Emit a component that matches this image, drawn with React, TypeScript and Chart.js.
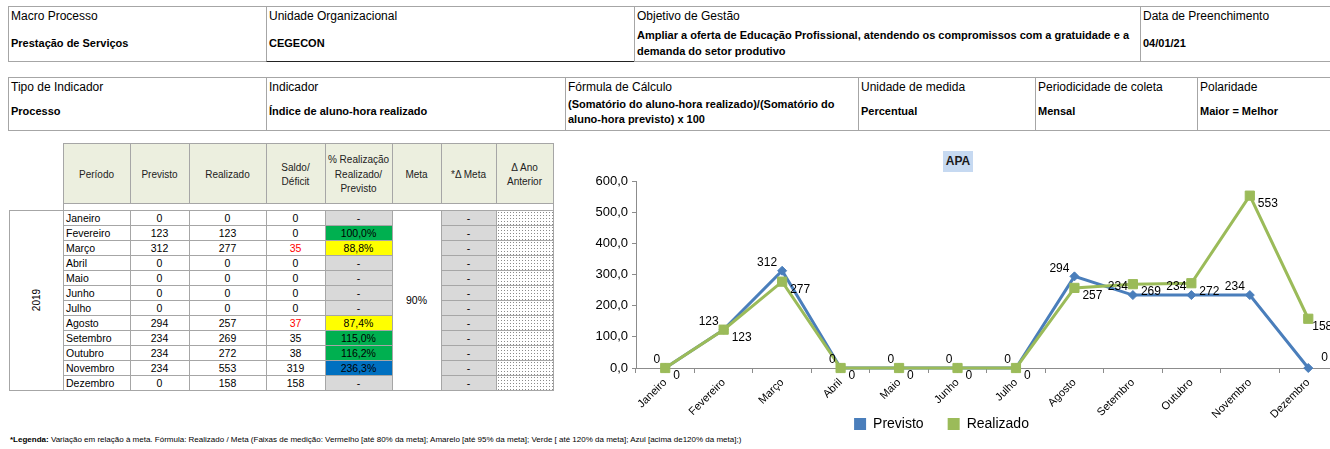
import React, { useEffect, useRef } from 'react';
import { Chart, registerables } from 'chart.js';

Chart.register(...registerables);

// ---------- data ----------
const months = ['Janeiro', 'Fevereiro', 'Março', 'Abril', 'Maio', 'Junho', 'Julho', 'Agosto', 'Setembro', 'Outubro', 'Novembro', 'Dezembro'];
const previsto = [0, 123, 312, 0, 0, 0, 0, 294, 234, 234, 234, 0];
const realizado = [0, 123, 277, 0, 0, 0, 0, 257, 269, 272, 553, 158];
const saldo = [0, 0, 35, 0, 0, 0, 0, 37, 35, 38, 319, 158];
const pctRealizacao: (number | null)[] = [null, 100.0, 88.8, null, null, null, null, 87.4, 115.0, 116.2, 236.3, null];
const yTicks = [0, 100, 200, 300, 400, 500, 600];
const seriesNames = ['Previsto', 'Realizado'];
const chartTitle = 'APA';
const yearLabel = '2019';
const metaLabel = '90%';

const infoHeaders1 = ['Macro Processo', 'Unidade Organizacional', 'Objetivo de Gestão', 'Data de Preenchimento'];
const infoValues1 = [['Prestação de Serviços'], ['CEGECON'], ['Ampliar a oferta de Educação Profissional, atendendo os compromissos com a gratuidade e a', 'demanda do setor produtivo'], ['04/01/21']];
const infoHeaders2 = ['Tipo de Indicador', 'Indicador', 'Fórmula  de Cálculo', 'Unidade de medida', 'Periodicidade de coleta', 'Polaridade'];
const infoValues2 = [['Processo'], ['Índice de aluno-hora realizado'], ['(Somatório do aluno-hora realizado)/(Somatório do', 'aluno-hora previsto) x 100'], ['Percentual'], ['Mensal'], ['Maior = Melhor']];
const tableHeaders = [['Período'], ['Previsto'], ['Realizado'], ['Saldo/', 'Déficit'], ['% Realização', 'Realizado/', 'Previsto'], ['Meta'], ['*Δ Meta'], ['Δ Ano', 'Anterior']];
const footerBold = '*Legenda:';
const footerText = ' Variação em relação à meta. Fórmula: Realizado / Meta (Faixas de medição: Vermelho [até 80% da meta]; Amarelo [até 95% da meta]; Verde [ até 120% da meta]; Azul [acima de120% da meta];)';

// ---------- styles ----------
const FONT = '"Liberation Sans", Arial, sans-serif';
const BORDER = '#A6A6A6';
const HEADER_BG = '#ECEFDF';
const GRAY_BG = '#D9D9D9';
const BLUE = '#4A7EBB';
const GREEN = '#9BBB59';
const AXIS = '#8C8C8C';

const fmtPct = (p: number) => p.toFixed(1).replace('.', ',') + '%';
const pctColor = (p: number) => (p <= 80 ? '#FF0000' : p <= 95 ? '#FFFF00' : p <= 120 ? '#00B050' : '#0070C0');

function Cell({ x, y, w, h, bg, style, children }: any) {
  return (
    <div
      style={{
        position: 'absolute', left: x, top: y, width: w + 1, height: h + 1, boxSizing: 'border-box',
        border: `1px solid ${BORDER}`, background: bg || 'transparent', ...style,
      }}
    >
      {children}
    </div>
  );
}

function Txt({ x, y, w, align = 'left', size = 12, bold = false, color = '#000', children, style }: any) {
  const lh = Math.round(size * 1.3);
  return (
    <div
      style={{
        position: 'absolute', left: x, top: y - lh / 2, width: w, height: lh, lineHeight: lh + 'px',
        fontSize: size, fontWeight: bold ? 'bold' : 'normal', textAlign: align, whiteSpace: 'nowrap', color, ...style,
      }}
    >
      {children}
    </div>
  );
}

const labelPlugin = {
  id: 'pointValueLabels',
  afterDatasetsDraw(chart: any) {
    const ctx = chart.ctx;
    ctx.save();
    ctx.font = `12px ${FONT}`;
    ctx.fillStyle = '#000';
    ctx.textBaseline = 'middle';
    chart.data.datasets.forEach((ds: any, di: number) => {
      const meta = chart.getDatasetMeta(di);
      const n = meta.data.length;
      meta.data.forEach((pt: any, i: number) => {
        const txt = String(ds.data[i]);
        if (di === 0) {
          if (i === n - 1) {
            ctx.textAlign = 'left';
            ctx.fillText(txt, pt.x + 13, pt.y - 10);
          } else {
            ctx.textAlign = 'right';
            ctx.fillText(txt, pt.x - 5, pt.y - 8);
          }
        } else {
          ctx.textAlign = 'left';
          ctx.fillText(txt, pt.x + (i === n - 1 ? 4 : 8), pt.y + 8);
        }
      });
    });
    ctx.restore();
  },
};

export default function App() {
  const canvasRef = useRef<HTMLCanvasElement>(null);

  useEffect(() => {
    const chart = new Chart(canvasRef.current as HTMLCanvasElement, {
      type: 'line',
      data: {
        labels: months,
        datasets: [
          {
            label: seriesNames[0], data: previsto, borderColor: BLUE, backgroundColor: BLUE, borderWidth: 3,
            pointStyle: 'rectRot', pointRadius: 4.5, pointBackgroundColor: BLUE, pointBorderColor: BLUE,
            pointBorderWidth: 1, tension: 0, clip: false, order: 1,
          } as any,
          {
            label: seriesNames[1], data: realizado, borderColor: GREEN, backgroundColor: GREEN, borderWidth: 3,
            pointStyle: 'rect', pointRadius: 6.5, pointBackgroundColor: GREEN, pointBorderColor: GREEN,
            pointBorderWidth: 1, tension: 0, clip: false, order: 0,
          } as any,
        ],
      },
      options: {
        animation: false,
        responsive: true,
        maintainAspectRatio: false,
        layout: { padding: { left: 0, right: 3, top: 36, bottom: 0 } },
        plugins: {
          title: { display: false },
          tooltip: { enabled: false },
          legend: {
            position: 'bottom',
            labels: {
              boxWidth: 12, boxHeight: 12, padding: 24, color: '#000',
              font: { size: 14, family: FONT },
              sort: (a: any, b: any) => a.datasetIndex - b.datasetIndex,
              generateLabels: (c: any) =>
                (Chart.defaults.plugins.legend.labels.generateLabels as any)(c).map((l: any) => ({ ...l, lineWidth: 0 })),
            },
          },
        },
        scales: {
          x: {
            type: 'category',
            offset: true,
            grid: { display: true, offset: true, drawOnChartArea: false, drawTicks: true, tickLength: 5, color: AXIS },
            border: { display: true, color: AXIS, width: 1 },
            ticks: { autoSkip: false, maxRotation: 45, minRotation: 45, padding: 3, color: '#000', font: { size: 11, family: FONT } },
            afterFit: (s: any) => {
              s.height = 25;
              // let the rotated labels run below the (shortened) axis box, as in the reference
              s._computeLabelArea = () => undefined;
            },
          },
          y: {
            min: 0,
            max: 600,
            afterBuildTicks: (s: any) => { s.ticks = yTicks.map((v) => ({ value: v })); },
            ticks: {
              padding: 4, color: '#000', font: { size: 13, family: FONT },
              callback: (v: any) => Number(v).toFixed(1).replace('.', ','),
            },
            grid: { display: true, drawOnChartArea: false, drawTicks: true, tickLength: 4, color: AXIS },
            border: { display: true, color: AXIS, width: 1 },
            afterFit: (s: any) => { s.width = 95; },
          },
        },
      } as any,
      plugins: [labelPlugin],
    });
    return () => chart.destroy();
  }, []);

  // layout constants
  const t1Cols = [8, 266, 634, 1140, 1340];
  const t2Cols = [8, 266, 565, 858, 1035, 1197, 1340];
  const dtCols = [63, 130, 189, 266, 325, 392, 441, 496, 553];
  const rowTop = 210;
  const rowH = 15;

  const headerLineYs = (n: number) => (n === 1 ? [174] : n === 2 ? [167, 181] : [159, 174, 188]);

  return (
    <div
      style={{
        position: 'absolute', left: 0, top: 0, width: 1330, height: 449, overflow: 'hidden',
        background: '#fff', fontFamily: FONT, color: '#000',
      }}
    >
      {/* Table 1 */}
      {infoHeaders1.map((hd, k) => {
        const x = t1Cols[k];
        const w = t1Cols[k + 1] - x;
        const vals = infoValues1[k];
        return (
          <React.Fragment key={'t1' + k}>
            <Cell x={x} y={6} w={w} h={55} style={k === 1 ? { borderBottom: '1px solid #222' } : undefined} />
            <Txt x={x + 3} y={16} w={w - 4} size={12}>{hd}</Txt>
            {vals.length === 1 ? (
              <Txt x={x + 3} y={43} w={w - 4} size={11} bold>{vals[0]}</Txt>
            ) : (
              vals.map((v, j) => (
                <Txt key={j} x={x + 3} y={35 + j * 16} w={w - 4} size={11} bold>{v}</Txt>
              ))
            )}
          </React.Fragment>
        );
      })}

      {/* Table 2 */}
      {infoHeaders2.map((hd, k) => {
        const x = t2Cols[k];
        const w = t2Cols[k + 1] - x;
        const vals = infoValues2[k];
        return (
          <React.Fragment key={'t2' + k}>
            <Cell x={x} y={77} w={w} h={53} />
            <Txt x={x + 3} y={87} w={w - 4} size={12}>{hd}</Txt>
            {vals.length === 1 ? (
              <Txt x={x + 3} y={111} w={w - 4} size={11} bold>{vals[0]}</Txt>
            ) : (
              vals.map((v, j) => (
                <Txt key={j} x={x + 3} y={104 + j * 15} w={w - 4} size={11} bold>{v}</Txt>
              ))
            )}
          </React.Fragment>
        );
      })}

      {/* Data table header */}
      {tableHeaders.map((lines, k) => {
        const x = dtCols[k];
        const w = dtCols[k + 1] - x;
        const ys = headerLineYs(lines.length);
        return (
          <React.Fragment key={'h' + k}>
            <Cell x={x} y={143} w={w} h={60} bg={HEADER_BG} />
            {lines.map((ln, j) => (
              <Txt key={j} x={x} y={ys[j]} w={w} align="center" size={10} color="#222">{ln}</Txt>
            ))}
          </React.Fragment>
        );
      })}
      <Cell x={63} y={203} w={490} h={7} bg="#fff" />

      {/* Year column */}
      <Cell x={9} y={rowTop} w={54} h={rowH * 12} />
      <div
        style={{
          position: 'absolute', left: 37 - 20, top: rowTop + (rowH * 12) / 2 - 7, width: 40, height: 14,
          lineHeight: '14px', fontSize: 10, textAlign: 'center', transform: 'rotate(-90deg)',
        }}
      >
        {yearLabel}
      </div>

      {/* Meta merged */}
      <Cell x={dtCols[5]} y={rowTop} w={dtCols[6] - dtCols[5]} h={rowH * 12} bg="#fff" />
      <Txt x={dtCols[5]} y={rowTop + (rowH * 12) / 2} w={dtCols[6] - dtCols[5]} align="center" size={10.5}>{metaLabel}</Txt>

      {/* Data rows */}
      {months.map((m, i) => {
        const y = rowTop + i * rowH;
        const cy = y + rowH / 2 + 0.5;
        const p = pctRealizacao[i];
        const cols = dtCols;
        const deficit = realizado[i] < previsto[i];
        return (
          <React.Fragment key={'r' + i}>
            <Cell x={cols[0]} y={y} w={cols[1] - cols[0]} h={rowH} />
            <Txt x={cols[0] + 3} y={cy} w={cols[1] - cols[0] - 4} size={10.5}>{m}</Txt>
            <Cell x={cols[1]} y={y} w={cols[2] - cols[1]} h={rowH} />
            <Txt x={cols[1]} y={cy} w={cols[2] - cols[1]} align="center" size={10.5}>{previsto[i]}</Txt>
            <Cell x={cols[2]} y={y} w={cols[3] - cols[2]} h={rowH} />
            <Txt x={cols[2]} y={cy} w={cols[3] - cols[2]} align="center" size={10.5}>{realizado[i]}</Txt>
            <Cell x={cols[3]} y={y} w={cols[4] - cols[3]} h={rowH} />
            <Txt x={cols[3]} y={cy} w={cols[4] - cols[3]} align="center" size={10.5} color={deficit ? '#FF0000' : '#000'}>{saldo[i]}</Txt>
            <Cell x={cols[4]} y={y} w={cols[5] - cols[4]} h={rowH} bg={p === null ? GRAY_BG : pctColor(p)} />
            <Txt x={cols[4]} y={cy} w={cols[5] - cols[4]} align="center" size={10.5}>{p === null ? '-' : fmtPct(p)}</Txt>
            <Cell x={cols[6]} y={y} w={cols[7] - cols[6]} h={rowH} bg={GRAY_BG} />
            <Txt x={cols[6]} y={cy} w={cols[7] - cols[6]} align="center" size={10.5}>-</Txt>
            <Cell
              x={cols[7]} y={y} w={cols[8] - cols[7]} h={rowH} bg="#fff"
              style={{ backgroundImage: 'radial-gradient(circle, #8a8a8a 38%, transparent 42%)', backgroundSize: '3px 3px' }}
            />
          </React.Fragment>
        );
      })}

      {/* Footer */}
      <div style={{ position: 'absolute', left: 10, top: 434, fontSize: 8, lineHeight: '12px', whiteSpace: 'nowrap' }}>
        <b>{footerBold}</b>{footerText}
      </div>

      {/* Chart title */}
      <div
        style={{
          position: 'absolute', left: 943, top: 151, width: 30, height: 21, lineHeight: '21px', background: '#C6D9F1',
          fontSize: 12, fontWeight: 'bold', textAlign: 'center', color: '#1a1a1a',
        }}
      >
        {chartTitle}
      </div>

      {/* Chart */}
      <div style={{ position: 'absolute', left: 541, top: 145, width: 804, height: 296 }}>
        <canvas ref={canvasRef} />
      </div>
    </div>
  );
}
